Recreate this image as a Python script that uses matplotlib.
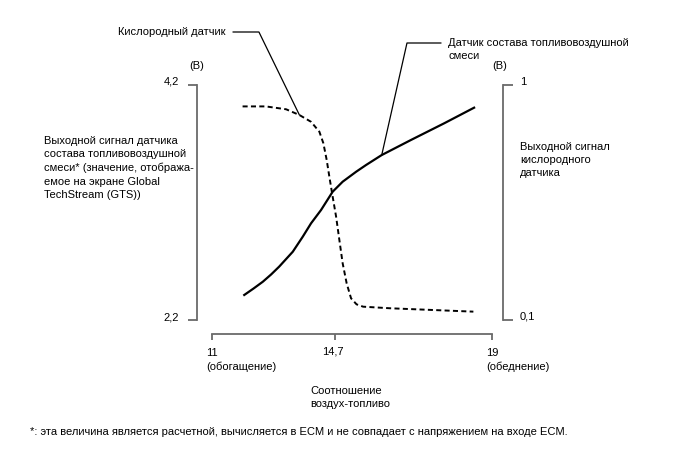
import matplotlib
matplotlib.use('Agg')
import matplotlib.pyplot as plt
import numpy as np

plt.rcParams['font.family'] = ['Liberation Sans', 'DejaVu Sans']
plt.rcParams['font.size'] = 8

# ---- data ----
x_ticks = [11, 14.7, 19]
x_tick_labels = ['11\n(обогащение)', '14,7', '19\n(обеднение)']
left_ticks = [2.2, 4.2]
left_tick_labels = ['2,2', '4,2']
right_ticks = [0.1, 1.0]
right_tick_labels = ['0,1', '1']

af_ratio = [11.97, 12.25, 12.53, 12.78, 13.02, 13.43, 13.73, 13.98, 14.28, 14.63,
            14.91, 15.28, 15.55, 15.98, 16.78, 17.69, 18.51]
af_voltage = [2.413, 2.468, 2.526, 2.588, 2.654, 2.781, 2.909, 3.023, 3.136, 3.292,
              3.377, 3.462, 3.519, 3.604, 3.732, 3.874, 4.007]

o2_ratio = [11.92, 12.62, 13.23, 13.63, 13.98, 14.23, 14.35, 14.45, 14.53, 14.63,
            14.73, 14.82, 14.91, 15.02, 15.14, 15.29, 15.47, 16.20, 18.49]
o2_voltage = [0.918, 0.918, 0.907, 0.885, 0.859, 0.821, 0.777, 0.713, 0.649, 0.572,
              0.496, 0.406, 0.317, 0.240, 0.183, 0.160, 0.151, 0.145, 0.132]

W, H = 688, 463
AXIS_COLOR = '#6a6a6a'

# piecewise-linear x scale so that 14.7 sits where the reference places it
xp = [11, 14.7, 19]
fp = [0.0, 123.0, 280.0]
def fwd(x):
    return np.interp(x, xp, fp)
def inv(y):
    return np.interp(y, fp, xp)

fig = plt.figure(figsize=(W / 100, H / 100), dpi=100)
ax = fig.add_axes([212 / W, 1 - 320 / H, 280 / W, 235 / H])
ax.patch.set_alpha(0)
ax.set_xscale('function', functions=(fwd, inv))
ax.set_xlim(11, 19)
ax.set_ylim(2.2, 4.2)

ax2 = ax.twinx()
ax2.set_ylim(0.1, 1.0)

px = 72 / 100  # points per pixel

for s in ['top', 'right']:
    ax.spines[s].set_visible(False)
for s in ['top', 'left', 'bottom']:
    ax2.spines[s].set_visible(False)

ax.spines['left'].set_position(('outward', 15 * px))
ax.spines['bottom'].set_position(('outward', 14 * px))
ax2.spines['right'].set_position(('outward', 11 * px))
for sp in [ax.spines['left'], ax.spines['bottom'], ax2.spines['right']]:
    sp.set_color(AXIS_COLOR)
    sp.set_linewidth(1.3)

ax.set_yticks(left_ticks)
ax.set_yticklabels(left_tick_labels)
ax.tick_params(axis='y', direction='out', length=9 * px, width=1.3, color=AXIS_COLOR,
               pad=9 * px, labelsize=8)
for lab in ax.get_yticklabels():
    lab.set_va('baseline')

ax.set_xticks(x_ticks)
ax.set_xticklabels([''] * len(x_ticks))
ax.xaxis.set_minor_locator(matplotlib.ticker.NullLocator())
ax.tick_params(axis='x', direction='out', length=6 * px, width=1.3, color=AXIS_COLOR)

ax2.set_yticks(right_ticks)
ax2.set_yticklabels(right_tick_labels)
ax2.tick_params(axis='y', direction='out', length=10 * px, width=1.3, color=AXIS_COLOR,
                pad=7 * px, labelsize=8)
for lab in ax2.get_yticklabels():
    lab.set_va('baseline')

# x tick labels placed individually
offsets = [(-6, -28), (-13, -27), (-6, -28)]
for xv, lab, (dx, dy) in zip(x_ticks, x_tick_labels, offsets):
    ax.annotate(lab, xy=(xv, 0), xycoords=('data', 'axes fraction'),
                xytext=(dx, dy), textcoords='offset pixels',
                ha='left', va='top', fontsize=8, linespacing=1.45)

# curves
ax.plot(af_ratio, af_voltage, color='black', lw=1.6, solid_joinstyle='round')
ax2.plot(o2_ratio, o2_voltage, color='black', lw=1.4, linestyle=(0, (2.6, 1.7)))

# leaders
ax2.annotate('Кислородный датчик', xy=(o2_ratio[3], o2_voltage[3]), xycoords='data',
             xytext=(226, H - 32), textcoords='figure pixels', ha='right', va='center',
             fontsize=8,
             arrowprops=dict(arrowstyle='-', color='black', lw=0.9, relpos=(1, 0.5),
                             shrinkA=3, shrinkB=0,
                             connectionstyle='angle,angleA=0,angleB=-64,rad=0'))
ax.annotate('Датчик состава топливовоздушной', xy=(af_ratio[13], af_voltage[13]),
            xycoords='data', xytext=(448, H - 43), textcoords='figure pixels',
            ha='left', va='center', fontsize=8,
            arrowprops=dict(arrowstyle='-', color='black', lw=0.9, relpos=(0, 0.5),
                            shrinkA=3, shrinkB=0,
                            connectionstyle='angle,angleA=0,angleB=77.3,rad=0'))
fig.text(448 / W, 1 - 56 / H, 'смеси', ha='left', va='center', fontsize=8)

# unit labels
fig.text(197 / W, 1 - 66 / H, '(В)', ha='center', va='center', fontsize=8)
fig.text(500 / W, 1 - 66 / H, '(В)', ha='center', va='center', fontsize=8)

# axis descriptions
fig.text(44 / W, 1 - 136 / H,
         'Выходной сигнал датчика\nсостава топливовоздушной\nсмеси* (значение, отобража-\n'
         'емое на экране Global\nTechStream (GTS))',
         ha='left', va='top', fontsize=8, linespacing=1.42)
fig.text(520 / W, 1 - 142 / H, 'Выходной сигнал\nкислородного\nдатчика',
         ha='left', va='top', fontsize=8, linespacing=1.36)
fig.text(310 / W, 1 - 386 / H, 'Соотношение\nвоздух-топливо',
         ha='left', va='top', fontsize=8, linespacing=1.42)

fig.text(30 / W, 1 - 432 / H,
         '*: эта величина является расчетной, вычисляется в ECM и не совпадает с напряжением на входе ECM.',
         ha='left', va='center', fontsize=8)

fig.savefig('out.png', dpi=100)
